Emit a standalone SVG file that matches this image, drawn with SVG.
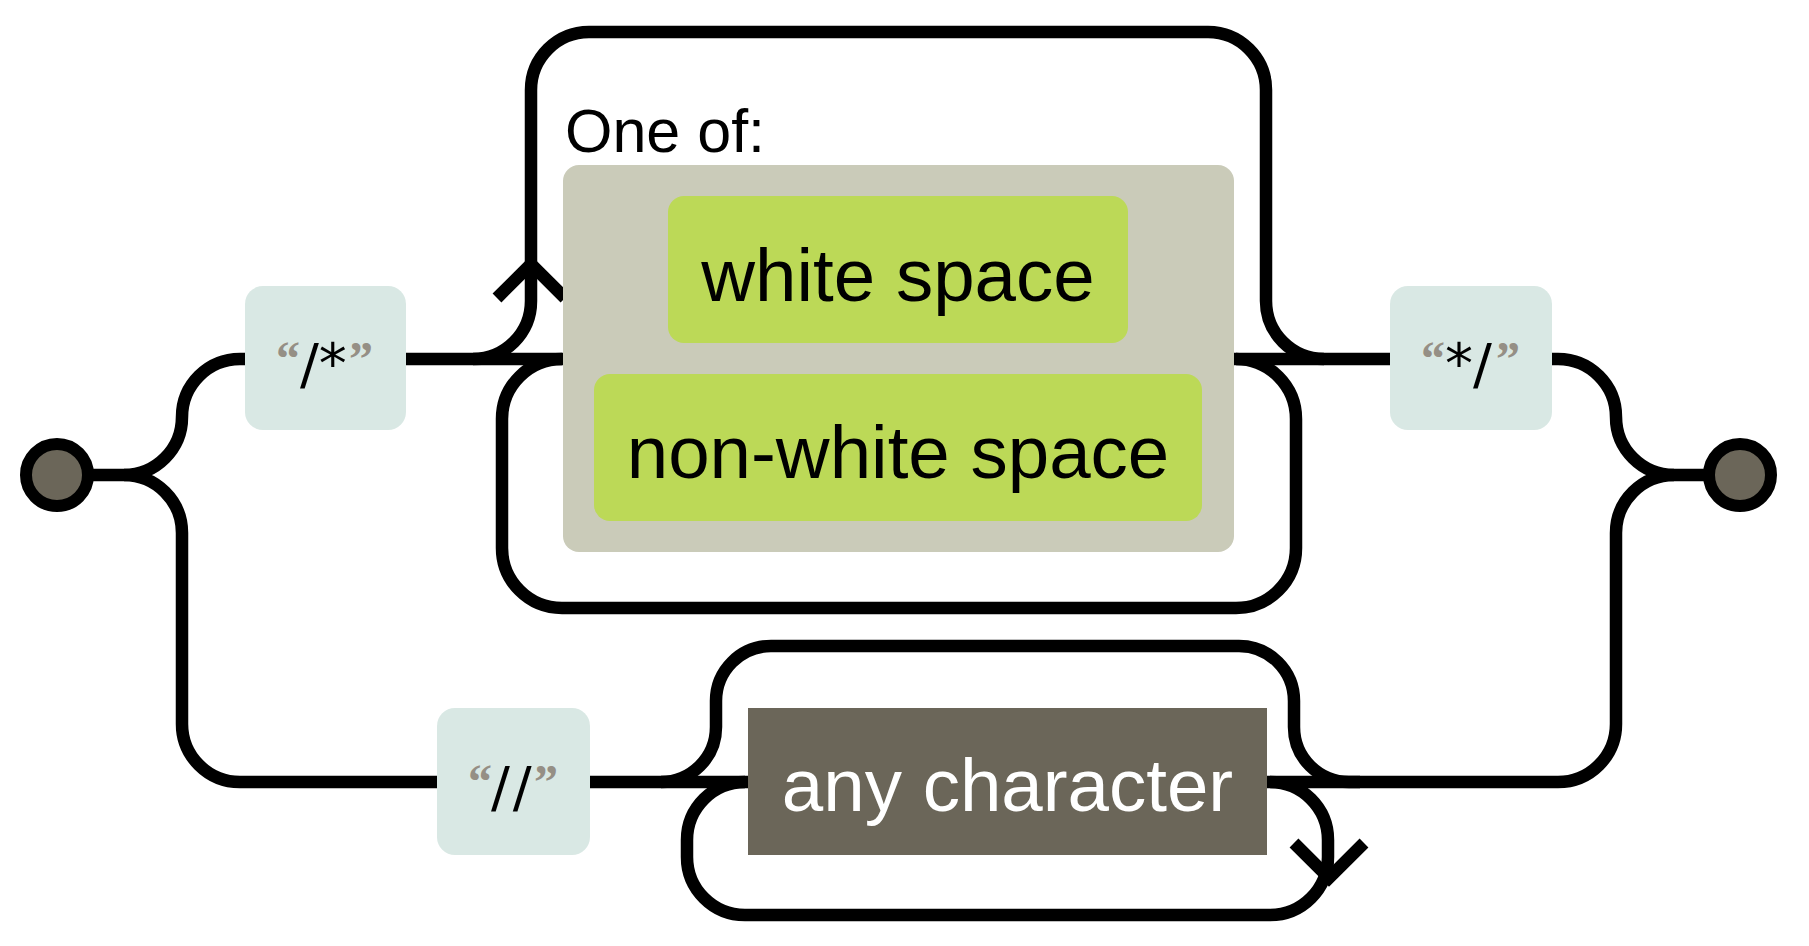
<svg xmlns="http://www.w3.org/2000/svg" width="1809" height="946" viewBox="0 0 1809 946">
<style>
.c{fill:none;stroke:#000;stroke-width:12.5}
.term{fill:#6b6659;stroke:#000;stroke-width:12}
.lit{fill:#d9e8e4}
.q{font-family:"Liberation Serif","Times New Roman",serif;font-weight:bold;fill:#958f85;font-size:48px}
.k{font-family:"DejaVu Sans",sans-serif;fill:#000;font-size:56px}
.lbl{font-family:"Liberation Sans",Arial,sans-serif;font-size:74.5px;text-anchor:middle}
</style>
<rect width="1809" height="946" fill="#fff"/>
<g id="connectors">
<path class="c" d="M57 475 H124"/>
<path class="c" d="M124 475 A58 58 0 0 0 182 417 A58 58 0 0 1 240 359 H250"/>
<path class="c" d="M124 475 A58 58 0 0 1 182 533 V724 A58 58 0 0 0 240 782 H440"/>
<path class="c" d="M400 359 H570"/>
<path class="c" d="M1228 359 H1395"/>
<path class="c" d="M473 359 A58 58 0 0 0 531 301 V90 A58 58 0 0 1 589 32 H1208 A58 58 0 0 1 1266 90 V301 A58 58 0 0 0 1324 359"/>
<path class="c" d="M562 359 A60 60 0 0 0 502 419 V548 A60 60 0 0 0 562 608 H1236 A60 60 0 0 0 1296 548 V419 A60 60 0 0 0 1236 359"/>
<path class="c" d="M1548 359 H1558 A58 58 0 0 1 1616 417 A58 58 0 0 0 1674 475 H1740"/>
<path class="c" d="M1674 475 A58 58 0 0 0 1616 533 V724 A58 58 0 0 1 1558 782 H1349"/>
<path class="c" d="M585 782 H1360"/>
<path class="c" d="M661 782 A55 55 0 0 0 716 727 V701 A55 55 0 0 1 771 646 H1239 A55 55 0 0 1 1294 701 V727 A55 55 0 0 0 1349 782"/>
<path class="c" d="M745 782 A58 58 0 0 0 687 840 V857 A58 58 0 0 0 745 915 H1270 A58 58 0 0 0 1328 857 V840 A58 58 0 0 0 1270 782"/>
<path class="c" d="M497 298 L531 264 L565 298"/>
<path class="c" d="M1294 843 L1329 878 L1364 843"/>
</g>
<g id="start"><circle class="term" cx="57" cy="475" r="31"/></g>
<g id="end"><circle class="term" cx="1740" cy="475" r="31"/></g>
<g id="lit-open">
<rect class="lit" x="245" y="286" width="161" height="144" rx="18"/>
<text class="q" x="276" y="375">“</text>
<text class="k" x="300" y="383">/*</text>
<text class="q" x="349" y="375">”</text>
</g>
<g id="oneof">
<text x="565" y="152" font-family="Liberation Sans, Arial, sans-serif" font-size="61">One of:</text>
<rect x="563" y="165" width="671" height="387" rx="16" fill="#cacbb9"/>
</g>
<g id="ws">
<rect x="668" y="196" width="460" height="147" rx="16" fill="#bcd957"/>
<text class="lbl" x="898" y="301">white space</text>
</g>
<g id="nws">
<rect x="594" y="374" width="608" height="147" rx="16" fill="#bcd957"/>
<text class="lbl" x="898" y="478">non-white space</text>
</g>
<g id="lit-close">
<rect class="lit" x="1390" y="286" width="162" height="144" rx="18"/>
<text class="q" x="1421" y="375">“</text>
<text class="k" x="1445" y="383">*/</text>
<text class="q" x="1496" y="375">”</text>
</g>
<g id="lit-line">
<rect class="lit" x="437" y="708" width="153" height="147" rx="18"/>
<text class="q" x="468" y="798">“</text>
<text class="k" x="491" y="806" letter-spacing="3">//</text>
<text class="q" x="534" y="798">”</text>
</g>
<g id="anychar">
<rect x="748" y="708" width="519" height="147" fill="#6b6659"/>
<text class="lbl" x="1007.5" y="811" fill="#fff" font-size="75">any character</text>
</g>
</svg>
